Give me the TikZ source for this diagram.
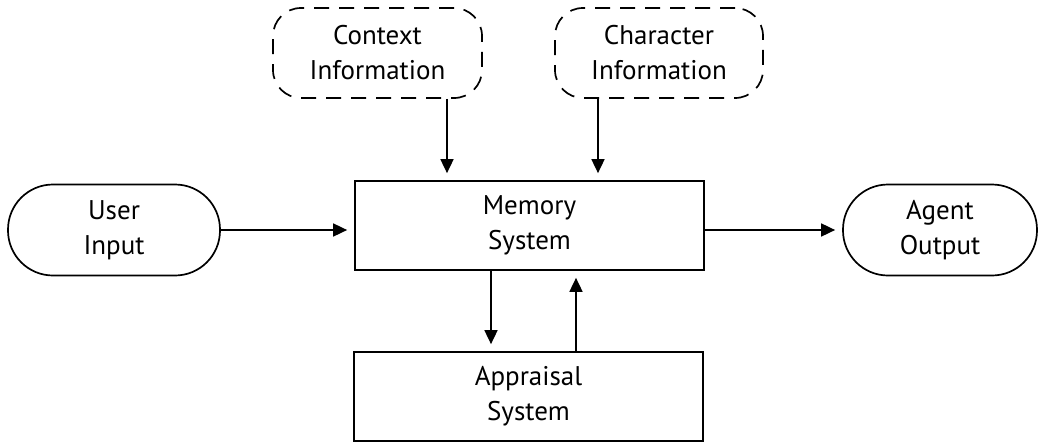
\documentclass[tikz,border=0pt]{standalone}
\usepackage{fontspec}
\setmainfont{PT Sans}
\usetikzlibrary{arrows.meta,calc}
\begin{document}
\begin{tikzpicture}[x=1pt,y=-1pt,
  every node/.style={font=\fontsize{27}{35}\selectfont, align=center, inner sep=0pt, line width=1.7pt,
    execute at begin node={\rule{0pt}{26pt}}},
  box/.style={draw, rectangle, minimum width=349pt, minimum height=89pt},
  dbox/.style={draw, rectangle, rounded corners=28pt, dash pattern=on 15pt off 10pt, minimum height=90pt},
  term/.style={draw, rectangle, rounded corners=45pt, minimum height=91pt},
  arr/.style={line width=1.7pt, -{Triangle[length=14pt,width=13pt]}, shorten >=7pt}]
\useasboundingbox (0,0) rectangle (1045,442);
\node[dbox, minimum width=209pt] (ctx) at (377.5,53) {Context\\Information};
\node[dbox, minimum width=208pt] (chr) at (659,53) {Character\\Information};
\node[box] (mem) at (529.5,225.5) {Memory\\System};
\node[box] (app) at (528.5,396.5) {Appraisal\\System};
\node[term, minimum width=212pt] (usr) at (114,230) {User\\Input};
\node[term, minimum width=194pt] (agt) at (940,230) {Agent\\Output};
\coordinate (c1) at ($(ctx.south)+(69.5,0)$);
\coordinate (c2) at ($(chr.south)+(-61,0)$);
\draw[arr] (c1) -- (c1 |- mem.north);
\draw[arr] (c2) -- (c2 |- mem.north);
\draw[arr] (usr.east) -- (usr.east -| mem.west);
\draw[arr] (usr.east -| mem.east) -- (agt.west);
\coordinate (d1) at ($(mem.south)+(-38.5,0)$);
\coordinate (u1) at ($(app.north)+(47.5,0)$);
\draw[arr] (d1) -- (d1 |- app.north);
\draw[arr] (u1) -- (u1 |- mem.south);
\end{tikzpicture}
\end{document}
